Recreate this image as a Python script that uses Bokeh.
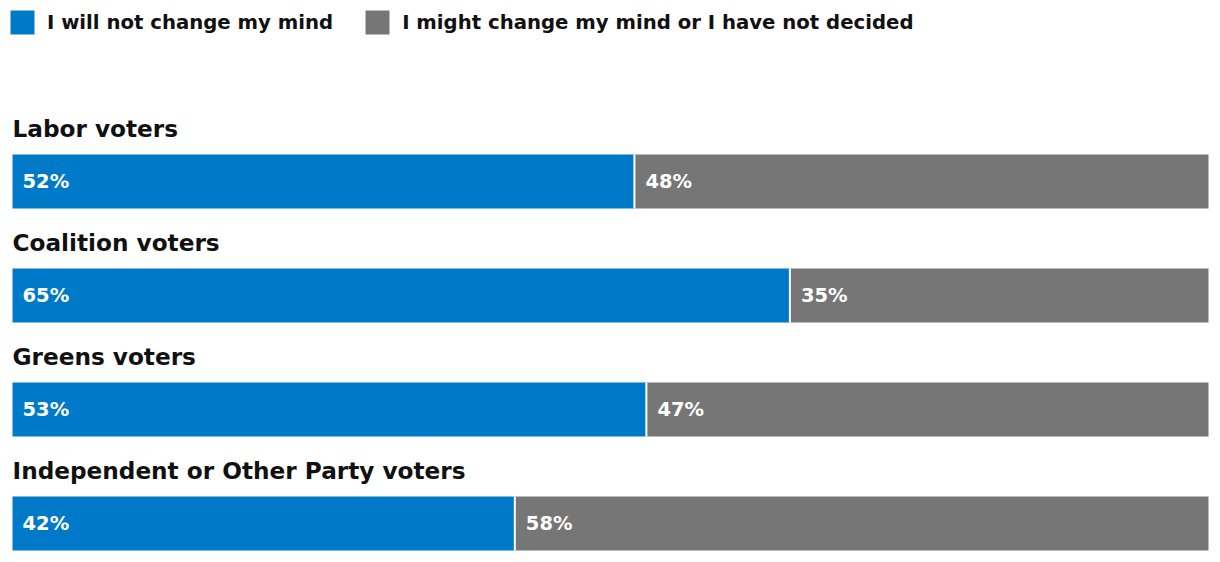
from bokeh.plotting import figure
from bokeh.models import ColumnDataSource, Range1d, Legend, LegendItem
from bokeh.core.properties import value
from bokeh.embed import file_html
from bokeh.resources import INLINE

categories = ["Labor voters", "Coalition voters", "Greens voters",
              "Independent or Other Party voters"]
will_not = [52, 65, 53, 42]
might = [48, 35, 47, 58]
series_names = ["I will not change my mind",
                "I might change my mind or I have not decided"]

BLUE = "#0079C8"
GREY = "#767676"
FONT = "DejaVu Sans"

W, H = 1216, 558
px_x = 11.96            # px per percentage point
x0 = -12 / px_x
row = 114.0             # px per category row
y_top = -181 / row

src = ColumnDataSource(dict(
    y=list(range(len(categories))),
    cat=categories,
    a=will_not,
    b=[w + m for w, m in zip(will_not, might)],
    zero=[0] * len(categories),
    a_lab=[f"{v}%" for v in will_not],
    b_lab=[f"{v}%" for v in might],
))

p = figure(width=W, height=H, output_backend="svg", toolbar_location=None,
           x_range=Range1d(x0, x0 + W / px_x),
           y_range=Range1d(y_top + H / row, y_top),
           min_border=0, outline_line_color=None,
           x_axis_location=None, y_axis_location=None)
p.grid.visible = False
p.background_fill_color = "white"
p.border_fill_color = "white"

bh = 54 / row
r1 = p.hbar(y="y", left="zero", right="a", height=bh, source=src,
            fill_color=BLUE, line_color=None)
r2 = p.hbar(y="y", left="a", right="b", height=bh, source=src,
            fill_color=GREY, line_color=None)
# white separator between the two segments
p.rect(x="a", y="y", width=2, height=bh, width_units="screen", source=src,
       fill_color="white", line_color=None)

p.text(x="zero", y="y", text="a_lab", source=src, x_offset=10,
       text_color="white", text_font=value(FONT), text_font_style="bold",
       text_font_size="19.5px", text_baseline="middle", text_align="left")
p.text(x="a", y="y", text="b_lab", source=src, x_offset=11,
       text_color="white", text_font=value(FONT), text_font_style="bold",
       text_font_size="19.5px", text_baseline="middle", text_align="left")
p.text(x="zero", y="y", text="cat", source=src, x_offset=0, y_offset=-53,
       text_color="#111111", text_font=value(FONT), text_font_style="bold",
       text_font_size="23.2px", text_baseline="alphabetic", text_align="left")

legend = Legend(items=[LegendItem(label=series_names[0], renderers=[r1]),
                       LegendItem(label=series_names[1], renderers=[r2])],
                orientation="horizontal", location="top_left",
                margin=7, padding=0, spacing=29,
                glyph_width=30, glyph_height=30, label_standoff=10,
                label_text_font=FONT, label_text_font_size="19.7px",
                label_text_font_style="bold", label_text_color="#111111",
                border_line_color=None, background_fill_alpha=0)
p.add_layout(legend, "center")

open("out.html", "w").write(file_html(p, INLINE))
